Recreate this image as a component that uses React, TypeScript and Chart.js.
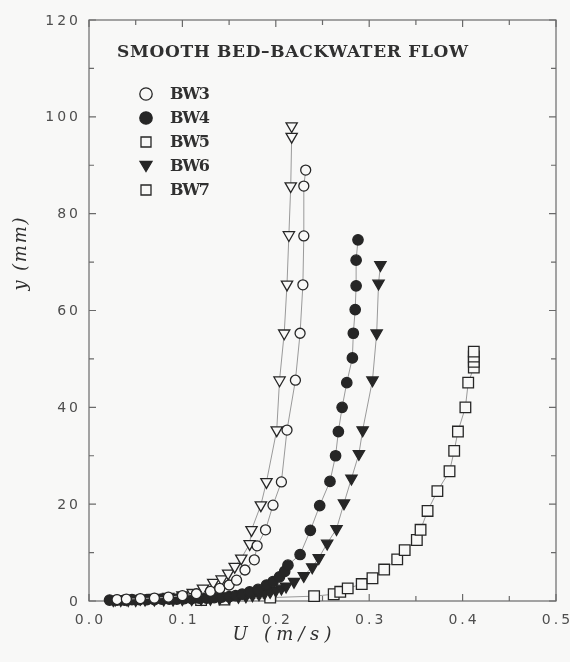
import React, { useEffect, useRef } from "react";
import { Chart, registerables } from "chart.js";

Chart.register(...registerables);

// ---------------- data ----------------
const BW3_U = [0.030, 0.040, 0.055, 0.070, 0.085, 0.100, 0.115, 0.130, 0.140, 0.150, 0.158, 0.167, 0.177, 0.180, 0.189, 0.197, 0.206, 0.212, 0.221, 0.226, 0.229, 0.230, 0.230, 0.232];
const BW3_Y = [0.3, 0.4, 0.5, 0.6, 0.8, 1.1, 1.5, 2.0, 2.6, 3.3, 4.3, 6.4, 8.5, 11.4, 14.7, 19.8, 24.6, 35.3, 45.6, 55.3, 65.3, 75.4, 85.7, 89.0];

const BW4_U = [0.022, 0.030, 0.038, 0.046, 0.054, 0.062, 0.070, 0.078, 0.086, 0.094, 0.102, 0.110, 0.118, 0.126, 0.134, 0.142, 0.150, 0.157, 0.164, 0.172, 0.181, 0.190, 0.197, 0.204, 0.2095, 0.213, 0.226, 0.237, 0.247, 0.258, 0.264, 0.267, 0.271, 0.276, 0.282, 0.283, 0.285, 0.286, 0.286, 0.288];
const BW4_Y = [0.2, 0.2, 0.2, 0.3, 0.3, 0.3, 0.3, 0.4, 0.4, 0.4, 0.5, 0.5, 0.6, 0.6, 0.7, 0.8, 0.9, 1.1, 1.4, 1.9, 2.4, 3.3, 4.0, 5.0, 6.1, 7.4, 9.6, 14.6, 19.7, 24.7, 30.0, 35.0, 40.0, 45.1, 50.2, 55.3, 60.2, 65.1, 70.4, 74.6];

const BW5_U = [0.028, 0.040, 0.055, 0.070, 0.085, 0.100, 0.111, 0.122, 0.133, 0.142, 0.149, 0.156, 0.163, 0.172, 0.174, 0.184, 0.190, 0.201, 0.204, 0.209, 0.212, 0.214, 0.216, 0.217, 0.217];
const BW5_Y = [0.3, 0.4, 0.5, 0.7, 0.9, 1.2, 1.7, 2.6, 3.8, 4.5, 5.7, 7.1, 8.8, 11.8, 14.7, 19.8, 24.6, 35.3, 45.6, 55.3, 65.4, 75.6, 85.7, 95.9, 98.1];

const BW6_U = [0.026, 0.034, 0.042, 0.050, 0.060, 0.070, 0.080, 0.090, 0.100, 0.110, 0.120, 0.130, 0.140, 0.150, 0.160, 0.168, 0.175, 0.182, 0.188, 0.194, 0.200, 0.206, 0.211, 0.2195, 0.230, 0.239, 0.246, 0.255, 0.265, 0.273, 0.281, 0.289, 0.293, 0.3035, 0.308, 0.310, 0.312];
const BW6_Y = [0.2, 0.2, 0.2, 0.2, 0.3, 0.3, 0.3, 0.3, 0.4, 0.4, 0.5, 0.5, 0.6, 0.7, 0.9, 1.0, 1.2, 1.4, 1.6, 1.9, 2.2, 2.6, 3.0, 4.0, 5.2, 7.0, 8.9, 11.9, 14.9, 20.2, 25.3, 30.4, 35.3, 45.6, 55.3, 65.6, 69.4];

const BW7_U = [0.120, 0.145, 0.194, 0.241, 0.262, 0.269, 0.277, 0.292, 0.3035, 0.316, 0.330, 0.338, 0.351, 0.355, 0.3625, 0.373, 0.386, 0.391, 0.395, 0.403, 0.406, 0.412, 0.412, 0.412, 0.412];
const BW7_Y = [0.2, 0.3, 0.7, 1.0, 1.4, 1.9, 2.6, 3.5, 4.7, 6.5, 8.6, 10.5, 12.6, 14.7, 18.6, 22.7, 26.8, 31.0, 35.0, 40.0, 45.1, 48.2, 49.4, 50.5, 51.5];

const X_TICKS = [0, 0.1, 0.2, 0.3, 0.4, 0.5];
const X_TICK_LABELS = ["0.0", "0.1", "0.2", "0.3", "0.4", "0.5"];
const X_MINOR = [0.05, 0.15, 0.25, 0.35, 0.45];
const Y_TICKS = [0, 20, 40, 60, 80, 100, 120];
const Y_TICK_LABELS = ["0", "20", "40", "60", "80", "100", "120"];
const Y_MINOR = [10, 30, 50, 70, 90, 110];

const TITLE = "SMOOTH BED–BACKWATER FLOW";
const X_TITLE = "U (m/s)";
const Y_TITLE = "y (mm)";

const LEGEND_LABELS = ["BW3", "BW4", "BW5", "BW6", "BW7"];
const LEGEND_STYLES = ["circle", "circle", "rect", "triangle", "rect"];
const LEGEND_FILLED = [false, true, false, true, false];

// ---------------- styles ----------------
const BG = "#f8f8f7";
const INK = "#262626";
const AXIS = "#6a6a6a";
const LINE = "#9a9a9a";
const TICK_TEXT = "#4e4e4e";
const TICK_LS = 3;

function pts(u: number[], y: number[]) {
  return u.map((v, i) => ({ x: v, y: y[i] }));
}

function mk(label: string, u: number[], y: number[], style: string, filled: boolean, r: number) {
  return {
    label,
    data: pts(u, y),
    showLine: true,
    borderColor: LINE,
    borderWidth: 1,
    pointStyle: style,
    pointRadius: r,
    pointRotation: style === "triangle" ? 180 : 0,
    pointBorderColor: INK,
    pointBackgroundColor: filled ? INK : BG,
    pointBorderWidth: 1.3,
    clip: false as any,
  };
}

// draws text left-aligned starting at x with a letter spacing; returns nothing
function spacedText(ctx: CanvasRenderingContext2D, text: string, x: number, y: number, ls: number) {
  (ctx as any).letterSpacing = ls.toFixed(2) + "px";
  ctx.textAlign = "left";
  ctx.fillText(text, x, y);
  (ctx as any).letterSpacing = "0px";
}

function plainWidth(ctx: CanvasRenderingContext2D, text: string) {
  (ctx as any).letterSpacing = "0px";
  return ctx.measureText(text).width;
}

// spacing so that the visible width equals target
function spacingFor(ctx: CanvasRenderingContext2D, text: string, target: number) {
  const n = Array.from(text).length;
  return n > 1 ? (target - plainWidth(ctx, text)) / (n - 1) : 0;
}

function legendMarker(ctx: CanvasRenderingContext2D, style: string, filled: boolean, x: number, y: number) {
  ctx.beginPath();
  if (style === "circle") {
    ctx.arc(x, y, 6.2, 0, Math.PI * 2);
  } else if (style === "rect") {
    ctx.rect(x - 5, y - 5, 10, 10);
  } else {
    ctx.moveTo(x - 6, y - 4.5);
    ctx.lineTo(x + 6, y - 4.5);
    ctx.lineTo(x, y + 5.5);
    ctx.closePath();
  }
  ctx.fillStyle = filled ? INK : BG;
  ctx.fill();
  ctx.lineWidth = 1.3;
  ctx.strokeStyle = INK;
  ctx.stroke();
}

const decorPlugin = {
  id: "decor",
  beforeDraw(chart: any) {
    const ctx: CanvasRenderingContext2D = chart.ctx;
    ctx.save();
    ctx.fillStyle = BG;
    ctx.fillRect(0, 0, chart.width, chart.height);
    ctx.restore();
  },
  beforeDatasetsDraw(chart: any) {
    const ctx: CanvasRenderingContext2D = chart.ctx;
    const { left, right, top, bottom } = chart.chartArea;
    const xs = chart.scales.x;
    const ys = chart.scales.y;
    ctx.save();
    ctx.strokeStyle = AXIS;
    ctx.lineWidth = 1.2;
    ctx.strokeRect(left, top, right - left, bottom - top);
    ctx.beginPath();
    const xt = (v: number, len: number) => {
      const p = xs.getPixelForValue(v);
      ctx.moveTo(p, bottom);
      ctx.lineTo(p, bottom - len);
      ctx.moveTo(p, top);
      ctx.lineTo(p, top + len);
    };
    const yt = (v: number, len: number) => {
      const p = ys.getPixelForValue(v);
      ctx.moveTo(left, p);
      ctx.lineTo(left + len, p);
      ctx.moveTo(right, p);
      ctx.lineTo(right - len, p);
    };
    X_TICKS.forEach((v) => xt(v, 7));
    X_MINOR.forEach((v) => xt(v, 5));
    Y_TICKS.forEach((v) => yt(v, 7));
    Y_MINOR.forEach((v) => yt(v, 5));
    ctx.stroke();

    // tick labels
    ctx.font = "14px 'DejaVu Sans'";
    ctx.fillStyle = TICK_TEXT;
    ctx.textBaseline = "top";
    X_TICKS.forEach((v, i) => {
      const t = X_TICK_LABELS[i];
      const w = plainWidth(ctx, t) + (Array.from(t).length - 1) * TICK_LS;
      spacedText(ctx, t, xs.getPixelForValue(v) - w / 2, bottom + 12, TICK_LS);
    });
    ctx.textBaseline = "middle";
    Y_TICKS.forEach((v, i) => {
      const t = Y_TICK_LABELS[i];
      const w = plainWidth(ctx, t) + (Array.from(t).length - 1) * TICK_LS;
      spacedText(ctx, t, left - 11 - w, ys.getPixelForValue(v) + 1, TICK_LS);
    });
    ctx.restore();
  },
  afterDraw(chart: any) {
    const ctx: CanvasRenderingContext2D = chart.ctx;
    const { left, top } = chart.chartArea;
    ctx.save();
    // title
    ctx.fillStyle = "#303030";
    ctx.font = "bold 17px 'DejaVu Serif'";
    ctx.textBaseline = "alphabetic";
    spacedText(ctx, TITLE, left + 28, top + 37, spacingFor(ctx, TITLE, 351));

    // legend
    ctx.font = "bold 16px 'DejaVu Serif'";
    ctx.textBaseline = "middle";
    for (let i = 0; i < LEGEND_LABELS.length; i++) {
      const cy = top + 74 + i * 24;
      legendMarker(ctx, LEGEND_STYLES[i], LEGEND_FILLED[i], left + 57, cy);
      ctx.fillStyle = "#303030";
      spacedText(ctx, LEGEND_LABELS[i], left + 81, cy + 1, spacingFor(ctx, LEGEND_LABELS[i], 40));
    }

    // axis titles
    ctx.font = "italic 18px 'DejaVu Serif'";
    ctx.fillStyle = "#303030";
    ctx.textBaseline = "middle";
    spacedText(ctx, X_TITLE, 282 - 99 / 2, 635, spacingFor(ctx, X_TITLE, 99));

    const yls = spacingFor(ctx, Y_TITLE, 73);
    ctx.translate(21, 254);
    ctx.rotate(-Math.PI / 2);
    spacedText(ctx, Y_TITLE, -73 / 2, 0, yls);
    ctx.restore();
  },
};

export default function App() {
  const ref = useRef<HTMLCanvasElement | null>(null);

  useEffect(() => {
    document.body.style.margin = "0";
    document.body.style.background = BG;
    const canvas = ref.current!;
    const chart = new Chart(canvas, {
      type: "scatter",
      data: {
        datasets: [
          mk("BW3", BW3_U, BW3_Y, "circle", false, 5),
          mk("BW4", BW4_U, BW4_Y, "circle", true, 5.2),
          mk("BW5", BW5_U, BW5_Y, "triangle", false, 6.5),
          mk("BW6", BW6_U, BW6_Y, "triangle", true, 6.5),
          mk("BW7", BW7_U, BW7_Y, "rect", false, 7.5),
        ] as any,
      },
      options: {
        animation: false,
        responsive: false,
        devicePixelRatio: 1,
        events: [],
        layout: { padding: { left: 0, top: 20, right: 14, bottom: 0 } },
        plugins: {
          legend: { display: false },
          title: { display: false },
          tooltip: { enabled: false },
        },
        scales: {
          x: {
            type: "linear",
            min: 0,
            max: 0.5,
            grid: { display: false, drawTicks: false },
            border: { display: false },
            afterBuildTicks: (s: any) => {
              s.ticks = X_TICKS.map((v) => ({ value: v }));
            },
            afterFit: (s: any) => {
              s.height = 61;
            },
            ticks: { display: false },
          },
          y: {
            type: "linear",
            min: 0,
            max: 120,
            grid: { display: false, drawTicks: false },
            border: { display: false },
            afterBuildTicks: (s: any) => {
              s.ticks = Y_TICKS.map((v) => ({ value: v }));
            },
            afterFit: (s: any) => {
              s.width = 89;
            },
            ticks: { display: false },
          },
        },
      } as any,
      plugins: [decorPlugin],
    });
    return () => chart.destroy();
  }, []);

  return (
    <canvas
      ref={ref}
      width={570}
      height={662}
      style={{ display: "block", width: 570, height: 662 }}
    />
  );
}
